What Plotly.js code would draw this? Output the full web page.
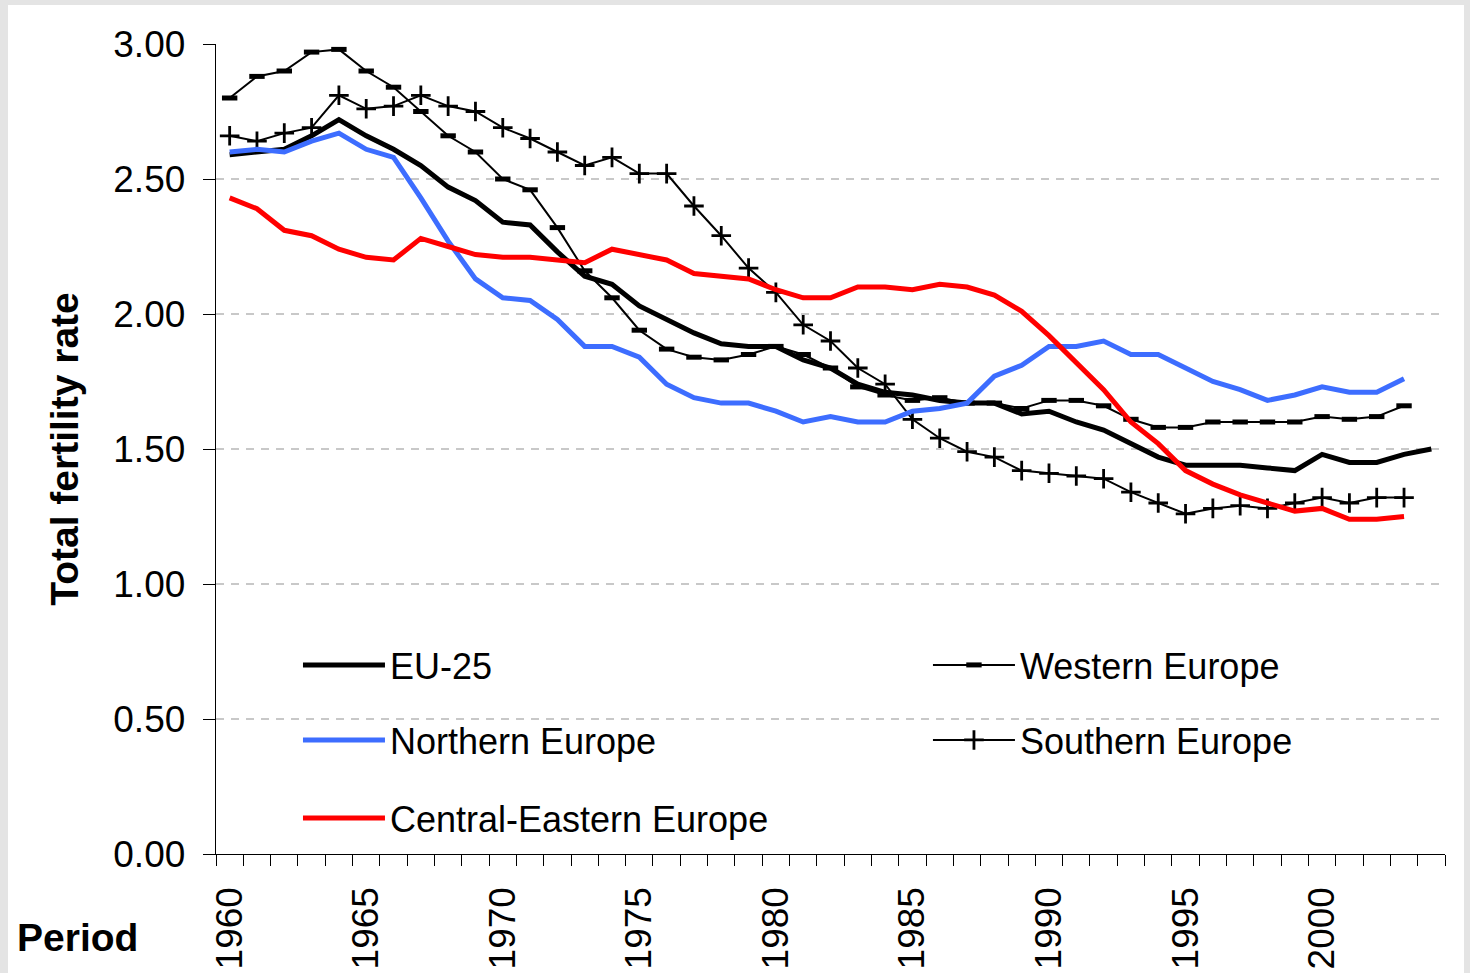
<!DOCTYPE html>
<html><head><meta charset="utf-8">
<script src="https://cdn.plot.ly/plotly-3.0.1.min.js"></script>
<style>
html,body{margin:0;padding:0;background:#e4e4e4;width:1470px;height:973px;overflow:hidden;}
#chart{position:absolute;left:8px;top:5px;width:1456px;height:968px;background:#fff;}
</style></head><body><div id="chart"></div>
<script>
// Years (categories)
const years = [1960,1961,1962,1963,1964,1965,1966,1967,1968,1969,
               1970,1971,1972,1973,1974,1975,1976,1977,1978,1979,
               1980,1981,1982,1983,1984,1985,1986,1987,1988,1989,
               1990,1991,1992,1993,1994,1995,1996,1997,1998,1999,
               2000,2001,2002,2003,2004];

const eu25 = [2.59,2.60,2.61,2.66,2.72,2.66,2.61,2.55,2.47,2.42,
              2.34,2.33,2.23,2.14,2.11,2.03,1.98,1.93,1.89,1.88,
              1.88,1.83,1.80,1.74,1.71,1.70,1.68,1.67,1.67,1.63,
              1.64,1.60,1.57,1.52,1.47,1.44,1.44,1.44,1.43,1.42,
              1.48,1.45,1.45,1.48,1.50];

const westernEurope = [2.80,2.88,2.90,2.97,2.98,2.90,2.84,2.75,2.66,2.60,
                       2.50,2.46,2.32,2.16,2.06,1.94,1.87,1.84,1.83,1.85,
                       1.88,1.85,1.80,1.73,1.70,1.68,1.69,1.67,1.67,1.65,
                       1.68,1.68,1.66,1.61,1.58,1.58,1.60,1.60,1.60,1.60,
                       1.62,1.61,1.62,1.66,null];

const southernEurope = [2.66,2.64,2.67,2.69,2.81,2.76,2.77,2.81,2.77,2.75,
                        2.69,2.65,2.60,2.55,2.58,2.52,2.52,2.40,2.29,2.17,
                        2.08,1.96,1.90,1.80,1.74,1.61,1.54,1.49,1.47,1.42,
                        1.41,1.40,1.39,1.34,1.30,1.26,1.28,1.29,1.28,1.30,
                        1.32,1.30,1.32,1.32,null];

const northernEurope = [2.60,2.61,2.60,2.64,2.67,2.61,2.58,2.43,2.27,2.13,
                        2.06,2.05,1.98,1.88,1.88,1.84,1.74,1.69,1.67,1.67,
                        1.64,1.60,1.62,1.60,1.60,1.64,1.65,1.67,1.77,1.81,
                        1.88,1.88,1.90,1.85,1.85,1.80,1.75,1.72,1.68,1.70,
                        1.73,1.71,1.71,1.76,null];

const centralEasternEurope = [2.43,2.39,2.31,2.29,2.24,2.21,2.20,2.28,2.25,2.22,
                              2.21,2.21,2.20,2.19,2.24,2.22,2.20,2.15,2.14,2.13,
                              2.09,2.06,2.06,2.10,2.10,2.09,2.11,2.10,2.07,2.01,
                              1.92,1.82,1.72,1.60,1.52,1.42,1.37,1.33,1.30,1.27,
                              1.28,1.24,1.24,1.25,null];

const xTickVals = [1960,1965,1970,1975,1980,1985,1990,1995,2000];
const xTickText = ['1960','1965','1970','1975','1980','1985','1990','1995','2000'];
const yTickVals = [0,0.5,1,1.5,2,2.5,3];

const FONT = 'Liberation Sans, Arial, Helvetica, sans-serif';

const traces = [
  {x: years, y: eu25, name: 'EU-25', type: 'scatter', mode: 'lines',
   line: {color: '#000000', width: 5}, legend: 'legend'},
  {x: years, y: westernEurope, name: 'Western Europe', type: 'scatter', mode: 'lines+markers',
   line: {color: '#000000', width: 2},
   marker: {symbol: 'line-ew', size: 11, color: '#000', line: {color: '#000', width: 5}},
   legend: 'legend2'},
  {x: years, y: southernEurope, name: 'Southern Europe', type: 'scatter', mode: 'lines+markers',
   line: {color: '#000000', width: 2},
   marker: {symbol: 'cross-thin', size: 14, color: '#000', line: {color: '#000', width: 2.8}},
   legend: 'legend4'},
  {x: years, y: northernEurope, name: 'Northern Europe', type: 'scatter', mode: 'lines',
   line: {color: '#3D6DFF', width: 5}, legend: 'legend3'},
  {x: years, y: centralEasternEurope, name: 'Central-Eastern Europe', type: 'scatter', mode: 'lines',
   line: {color: '#FF0000', width: 5}, legend: 'legend5'}
];

function leg(x, y) {
  return {x: x, y: y, xanchor: 'left', yanchor: 'middle', bgcolor: 'rgba(0,0,0,0)',
          borderwidth: 0, itemwidth: 82, font: {family: FONT, size: 36, color: '#000'}};
}

const layout = {
  width: 1456, height: 968,
  margin: {l: 208, r: 19, t: 39, b: 119, pad: 0},
  paper_bgcolor: '#ffffff', plot_bgcolor: '#ffffff',
  font: {family: FONT, color: '#000'},
  showlegend: true,
  xaxis: {
    range: [1959.5, 2004.5], tickmode: 'array', tickvals: xTickVals, ticktext: xTickText,
    tickangle: -90, ticks: 'outside', ticklen: 11, tickcolor: 'rgba(0,0,0,0)',
    ticklabelstandoff: 6,
    showline: true, linecolor: '#000', linewidth: 1.3, showgrid: false, zeroline: false,
    tickfont: {family: FONT, size: 37, color: '#000'},
    minor: {tick0: 1959.5, dtick: 1, ticks: 'outside', ticklen: 11, tickcolor: '#000', tickwidth: 1, showgrid: false},
    automargin: false, fixedrange: true
  },
  yaxis: {
    range: [0, 3], tickmode: 'array', tickvals: yTickVals, tickformat: '.2f',
    ticks: 'outside', ticklen: 12, tickcolor: '#000', ticklabelstandoff: 10,
    showline: true, linecolor: '#000', linewidth: 1.3,
    showgrid: true, gridcolor: '#c8c8c8', gridwidth: 1.3, griddash: '8px,7px',
    zeroline: false,
    tickfont: {family: FONT, size: 37, color: '#000'},
    title: {text: '<b>Total fertility rate</b>', font: {family: FONT, size: 39, color: '#000'}, standoff: 22},
    automargin: false, fixedrange: true
  },
  legend:  leg(0.0667, 0.2333),
  legend2: leg(0.5793, 0.2333),
  legend3: leg(0.0667, 0.1407),
  legend4: leg(0.5793, 0.1407),
  legend5: leg(0.0667, 0.0444),
  annotations: [{
    text: '<b>Period</b>', xref: 'paper', yref: 'paper', x: -0.1131, y: -0.1037,
    xanchor: 'center', yanchor: 'middle', showarrow: false,
    font: {family: FONT, size: 39, color: '#000'}
  }]
};

Plotly.newPlot('chart', traces, layout, {displayModeBar: false, staticPlot: true});
</script></body></html>
